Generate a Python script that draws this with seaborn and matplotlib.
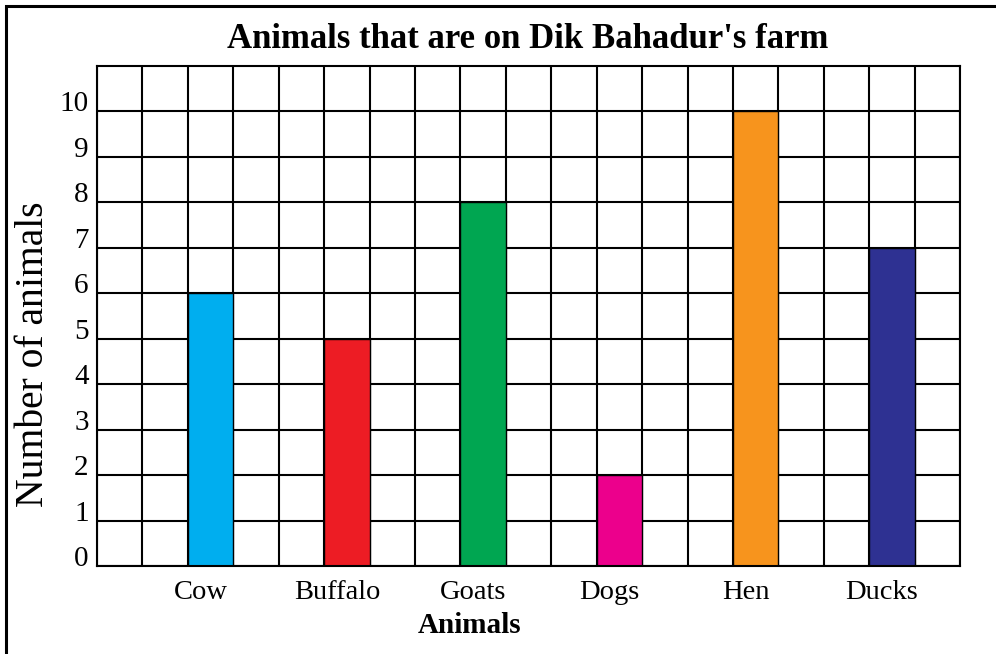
import matplotlib
matplotlib.use('Agg')
import numpy as np
import pandas as pd
import seaborn as sns
from matplotlib import pyplot as plt
from matplotlib.patches import Rectangle
from matplotlib.transforms import ScaledTranslation

animals = ['Cow', 'Buffalo', 'Goats', 'Dogs', 'Hen', 'Ducks']
counts = [6, 5, 8, 2, 10, 7]
colors = ['#00AEEF', '#ED1C24', '#00A651', '#EC008C', '#F7941D', '#2E3192']
y_ticks = list(range(0, 11))


def draw():
    sns.set_style('white')
    plt.rcParams['font.family'] = ['Liberation Serif', 'DejaVu Serif']
    plt.rcParams['text.color'] = 'black'
    plt.rcParams['xtick.color'] = 'black'
    plt.rcParams['ytick.color'] = 'black'

    df = pd.DataFrame({'animal': animals, 'count': counts})

    fig = plt.figure(figsize=(9.96, 6.54), dpi=100)
    ax = fig.add_axes([0.0974, 0.1346, 0.8665, 0.7645])
    sns.barplot(data=df, x='animal', y='count', hue='animal',
                palette=colors, saturation=1, width=1 / 3,
                edgecolor='black', linewidth=1, legend=False, ax=ax)

    # one grid cell = 1/3 of a category step
    ax.set_xlim(-2.5 / 3, 5 + 1.5 / 3)
    ax.set_ylim(0, 11)
    ax.set_xticks(np.arange(20) / 3 - 2.5 / 3, minor=True)
    ax.set_yticks(y_ticks)
    ax.set_axisbelow(True)
    ax.grid(which='minor', axis='x', color='black', lw=1.5)
    ax.grid(which='major', axis='y', color='black', lw=1.5)
    ax.grid(which='major', axis='x', visible=False)
    for s in ax.spines.values():
        s.set_visible(True)
        s.set_color('black')
        s.set_linewidth(1.5)

    ax.tick_params(axis='both', which='both', length=0)
    ax.tick_params(axis='x', labelsize=20.5, pad=10)
    ax.tick_params(axis='y', labelsize=21, pad=6)
    for lbl in ax.get_yticklabels():
        lbl.set_verticalalignment('baseline')
    shift = ScaledTranslation(-10 / 100, 0, fig.dpi_scale_trans)
    for lbl in ax.get_xticklabels():
        lbl.set_transform(lbl.get_transform() + shift)
    ax.set_xlabel('')
    ax.set_ylabel('')

    fig.text(0.530, 0.940, "Animals that are on Dik Bahadur's farm",
             ha='center', va='center', fontsize=25, fontweight='bold')
    fig.text(0.471, 0.043, 'Animals', ha='center', va='center',
             fontsize=21, fontweight='bold')
    fig.text(0.034, 0.458, 'Number of animals', ha='center', va='center',
             rotation=90, fontsize=28.5)

    fig.patches.append(Rectangle((6 / 996, -0.1), 1.2, 1 - 6 / 654 + 0.1,
                                 transform=fig.transFigure, fill=False,
                                 lw=2.2, ec='black'))
    fig.savefig('out.png', dpi=100)


if __name__ == '__main__':
    draw()
